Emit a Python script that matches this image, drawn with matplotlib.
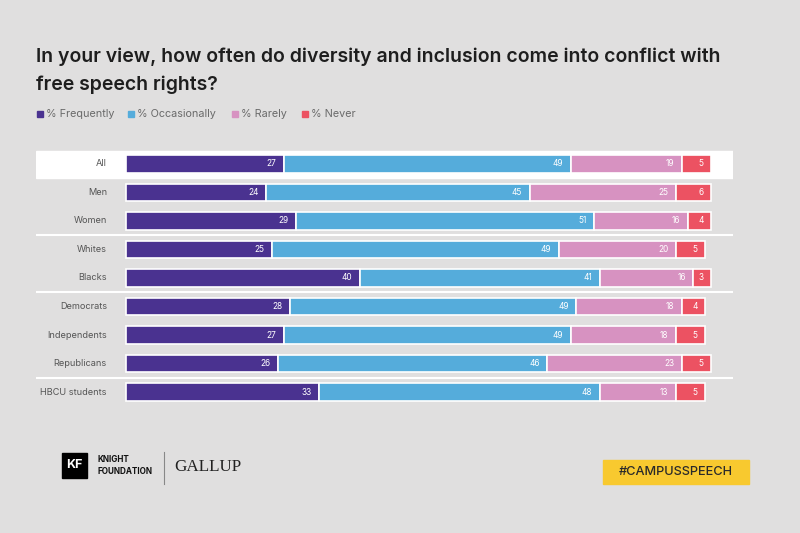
import matplotlib.pyplot as plt
from matplotlib.patches import Rectangle

groups = ["All", "Men", "Women", "Whites", "Blacks", "Democrats",
          "Independents", "Republicans", "HBCU students"]
frequently = [27, 24, 29, 25, 40, 28, 27, 26, 33]
occasionally = [49, 45, 51, 49, 41, 49, 49, 46, 48]
rarely = [19, 25, 16, 20, 16, 18, 18, 23, 13]
never = [5, 6, 4, 5, 3, 4, 5, 5, 5]

series = [("% Frequently", frequently, "#4a3290"),
          ("% Occasionally", occasionally, "#55acdb"),
          ("% Rarely", rarely, "#d792c1"),
          ("% Never", never, "#ec5262")]

bg = "#e0dfdf"
W, H = 800, 533
fig = plt.figure(figsize=(8, 5.33), dpi=100, facecolor=bg)
plt.rcParams['font.family'] = ['Inter', 'DejaVu Sans']

# axes spans the white band (px 36..733), bars start at px 126, 5.85 px per point
px_per = 5.85
x0 = 126
ax = fig.add_axes([36 / W, 1 - 406 / H, (733 - 36) / W, (406 - 148) / H])
ax.set_facecolor(bg)
ax.set_xlim((36 - x0) / px_per, (733 - x0) / px_per)
ax.set_ylim(8.49, -0.56)
ax.axis("off")

ax.axhspan(-0.46, 0.49, color="white", zorder=0)
for y in [2.5, 4.5, 7.5]:
    ax.axhline(y, color="white", lw=1.5, zorder=0)

rows = list(range(len(groups)))
left = [0] * len(groups)
for name, vals, col in series:
    ax.barh(rows, vals, left=left, height=0.6, color=col,
            edgecolor="white", linewidth=1.2, zorder=2)
    for i, v in enumerate(vals):
        ax.text(left[i] + v - 1.3, i, str(v), color="white", fontsize=6,
                ha="right", va="center", zorder=3)
    left = [a + b for a, b in zip(left, vals)]

for i, g in enumerate(groups):
    ax.text((107 - x0) / px_per, i, g, color="#555555", fontsize=6.6,
            ha="right", va="center")

# title
fig.text(36 / W, 1 - 57 / H, "In your view, how often do diversity and inclusion come into conflict with",
         fontsize=14, fontweight="semibold", color="#1e1e1e", va="center")
fig.text(36 / W, 1 - 85 / H, "free speech rights?",
         fontsize=14, fontweight="semibold", color="#1e1e1e", va="center")

# legend
leg_x = [37, 128, 232, 302]
for (name, vals, col), lx in zip(series, leg_x):
    fig.patches.append(Rectangle((lx / W, 1 - 117 / H), 6 / W, 6 / H,
                                 transform=fig.transFigure, color=col))
    fig.text((lx + 9) / W, 1 - 114 / H, name, fontsize=7.8, color="#6a6a6a",
             va="center")

# footer logos
fig.patches.append(Rectangle((62 / W, 1 - 478 / H), 25 / W, 25 / H,
                             transform=fig.transFigure, color="black"))
fig.text(74.5 / W, 1 - 465.5 / H, "KF", color="white", fontsize=9,
         fontweight="bold", ha="center", va="center")
fig.text(98 / W, 1 - 460 / H, "KNIGHT", fontsize=5.9, fontweight="bold",
         color="#111111", va="center")
fig.text(98 / W, 1 - 472 / H, "FOUNDATION", fontsize=5.9, fontweight="bold",
         color="#111111", va="center")
fig.add_artist(plt.Line2D([164 / W, 164 / W], [1 - 452 / H, 1 - 484 / H],
                          color="#888888", lw=0.8, transform=fig.transFigure))
fig.text(174 / W, 1 - 467 / H, "GALLUP", fontsize=12.3, family="Liberation Serif",
         color="#222222", va="center")

fig.patches.append(Rectangle((603 / W, 1 - 484 / H), 146 / W, 24 / H,
                             transform=fig.transFigure, color="#f8c92f"))
fig.text(676 / W, 1 - 472 / H, "#CAMPUSSPEECH", fontsize=9.2, color="#2a2a2a",
         fontweight="medium", ha="center", va="center")

fig.savefig("out.png", dpi=100, facecolor=bg)
